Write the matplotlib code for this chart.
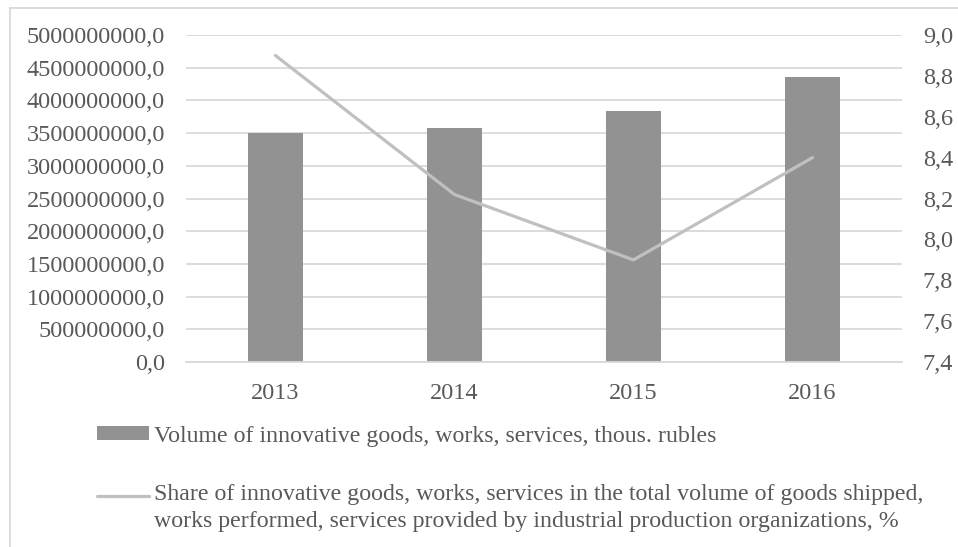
import matplotlib.pyplot as plt
from matplotlib.lines import Line2D
from matplotlib.ticker import FuncFormatter, MultipleLocator

# data
years = ["2013", "2014", "2015", "2016"]
volume = [3.50e9, 3.58e9, 3.84e9, 4.36e9]
share = [8.90, 8.22, 7.90, 8.40]

bar_label = "Volume of innovative goods, works, services, thous. rubles"
line_label = ("Share of innovative goods, works, services in the total volume of goods shipped,\n"
              "works performed, services provided by industrial production organizations, %")

plt.rcParams["font.family"] = ["Liberation Serif", "DejaVu Serif"]
text_color = "#595959"
grid_color = "#d9d9d9"


def comma_fmt(v, pos):
    return f"{v:.1f}".replace(".", ",")


fig = plt.figure(figsize=(9.58, 5.47), dpi=100)
ax = fig.add_axes([0.194, 0.338, 0.7475, 0.598])
ax2 = ax.twinx()

x = range(len(years))
bars = ax.bar(x, volume, width=0.31, color="#929292", zorder=2, label=bar_label)
line, = ax2.plot(x, share, color="#c0c0c0", linewidth=2.3, solid_capstyle="round", label=line_label)

ax.set_xlim(-0.5, 3.5)
ax.set_ylim(0, 5e9)
ax.yaxis.set_major_locator(MultipleLocator(5e8))
ax.yaxis.set_major_formatter(FuncFormatter(comma_fmt))
ax2.set_ylim(7.4, 9.0)
ax2.yaxis.set_major_locator(MultipleLocator(0.2))
ax2.yaxis.set_major_formatter(FuncFormatter(comma_fmt))

ax.set_xticks(list(x))
ax.set_xticklabels(years)
ax.grid(axis="y", color=grid_color, linewidth=1.3, zorder=0)
ax.set_axisbelow(True)

for a in (ax, ax2):
    for s in a.spines.values():
        s.set_visible(False)
    a.tick_params(length=0, labelsize=17.5, colors=text_color)
ax.tick_params(axis="y", pad=15)
ax2.tick_params(axis="y", pad=15)
ax.tick_params(axis="x", pad=15)
ax.spines["bottom"].set_visible(True)
ax.spines["bottom"].set_color(grid_color)
ax.spines["bottom"].set_linewidth(1.3)

# outer chart frame (left and top edges visible)
fig.add_artist(Line2D([0.0105, 0.0105], [0, 0.985], color=grid_color, linewidth=1.3))
fig.add_artist(Line2D([0.0105, 1.0], [0.985, 0.985], color=grid_color, linewidth=1.3))

leg = fig.legend(handles=[bars, line], labels=[bar_label, line_label],
                 loc="upper left", bbox_to_anchor=(0.101, 0.222), frameon=False,
                 fontsize=17.2, labelcolor=text_color, handlelength=2.18, handleheight=0.5,
                 handletextpad=0.2, labelspacing=1.55, borderpad=0, borderaxespad=0)
for t in leg.get_texts():
    t.set_linespacing(1.4)

# the line handle sits next to the first line of its two-line label
leg_line = leg.legend_handles[1]
leg_line.set_ydata(leg_line.get_ydata() + 8.8)

fig.savefig("out.png", dpi=100)
